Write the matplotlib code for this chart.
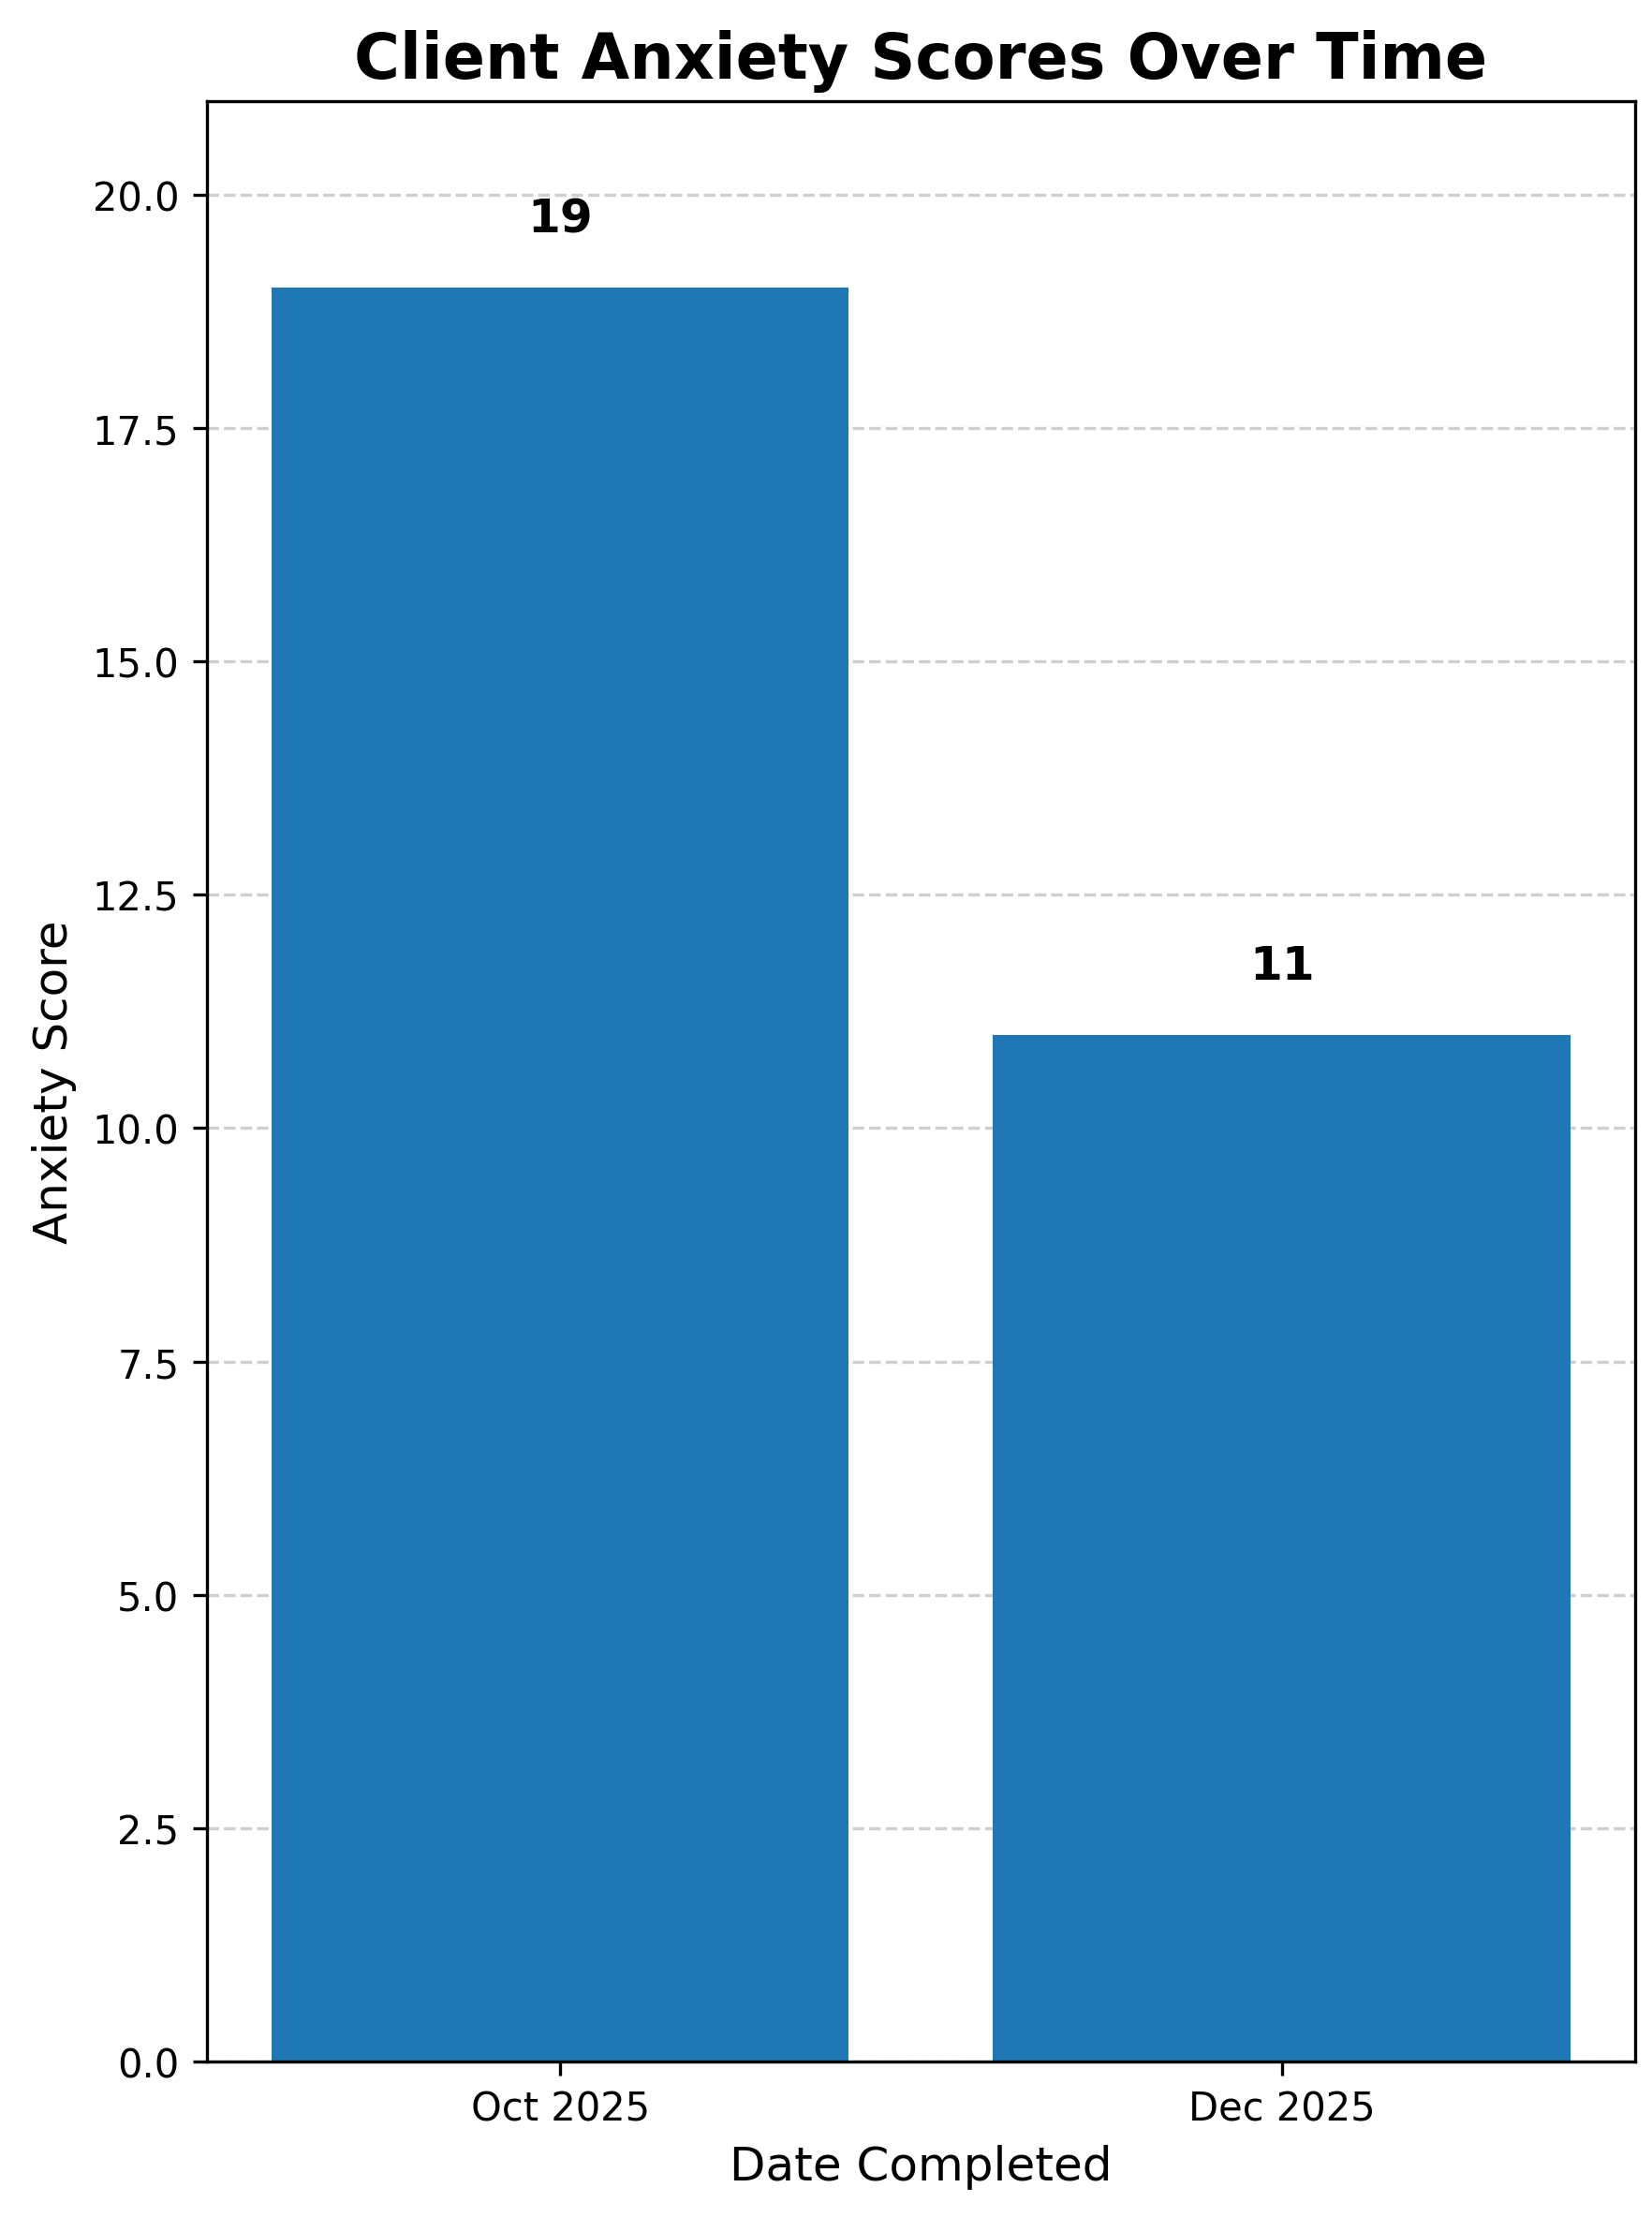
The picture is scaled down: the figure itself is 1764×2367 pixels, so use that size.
import matplotlib
matplotlib.use("Agg")
import matplotlib.pyplot as plt

dates = ["Oct 2025", "Dec 2025"]
scores = [19, 11]

fig = plt.figure(figsize=(5.88, 7.893), dpi=300)
ax = fig.add_axes([0.125, 0.070, 0.865, 0.884])
bars = ax.bar(dates, scores, color="#1f77b4", width=0.8, zorder=2)
ax.set_ylim(0, 21)
ax.yaxis.grid(True, linestyle="--", alpha=0.6, zorder=0)
ax.set_axisbelow(True)
for i, v in enumerate(scores):
    ax.text(i, v + 0.5, str(v), ha="center", va="bottom", fontsize=12, fontweight="bold")
ax.set_title("Client Anxiety Scores Over Time", fontsize=16, fontweight="bold")
ax.set_xlabel("Date Completed", fontsize=12)
ax.set_ylabel("Anxiety Score", fontsize=12)
fig.savefig("out.png", dpi=300)
